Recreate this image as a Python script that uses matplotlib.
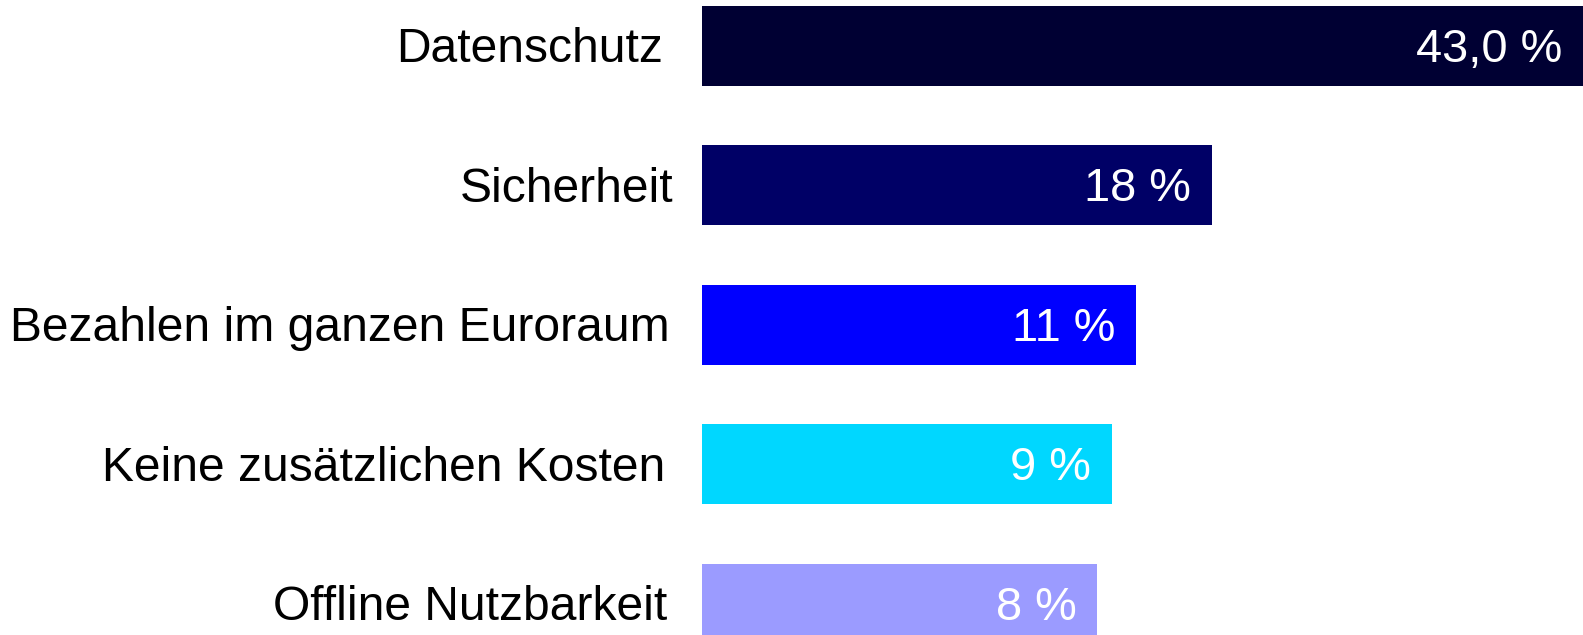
import matplotlib
matplotlib.use("Agg")
import matplotlib.pyplot as plt

categories = ["Datenschutz", "Sicherheit", "Bezahlen im ganzen Euroraum",
              "Keine zusätzlichen Kosten", "Offline Nutzbarkeit"]
value_labels = ["43,0 %", "18 %", "11 %", "9 %", "8 %"]
# visual bar lengths as drawn in the reference (same scale as the 43 % bar)
bar_lengths = [43.0, 24.9, 21.2, 20.0, 19.3]
colors = ["#000033", "#000066", "#0000FF", "#00D7FF", "#9B9BFF"]

plt.rcParams["font.family"] = ["Liberation Sans", "DejaVu Sans"]

W, H = 1583, 635
fig = plt.figure(figsize=(W / 100, H / 100), dpi=100)
fig.patch.set_facecolor("white")

left_px = 702
ax = fig.add_axes([left_px / W, 0, 1 - left_px / W, 1])
ax.set_xlim(0, 43.0)
spacing = 139.5
top_c = 45.5
ax.set_ylim((H - top_c) / spacing, -top_c / spacing)
ax.axis("off")

ypos = list(range(len(categories)))
ax.barh(ypos, bar_lengths, height=80 / spacing, color=colors, left=0)

px_per_unit = (W - left_px) / 43.0
label_right = [663, 673, 670, 665, 667]
for i, (cat, lab, L) in enumerate(zip(categories, value_labels, bar_lengths)):
    ax.text(L - 21 / px_per_unit, i + 0.03, lab, ha="right", va="center",
            color="white", fontsize=33.8)
    xlab = (label_right[i] - left_px) / px_per_unit
    ax.text(xlab, i + 0.03, cat, ha="right", va="center", color="black",
            fontsize=34.6, clip_on=False)

fig.savefig("out.png", dpi=100, facecolor="white")
